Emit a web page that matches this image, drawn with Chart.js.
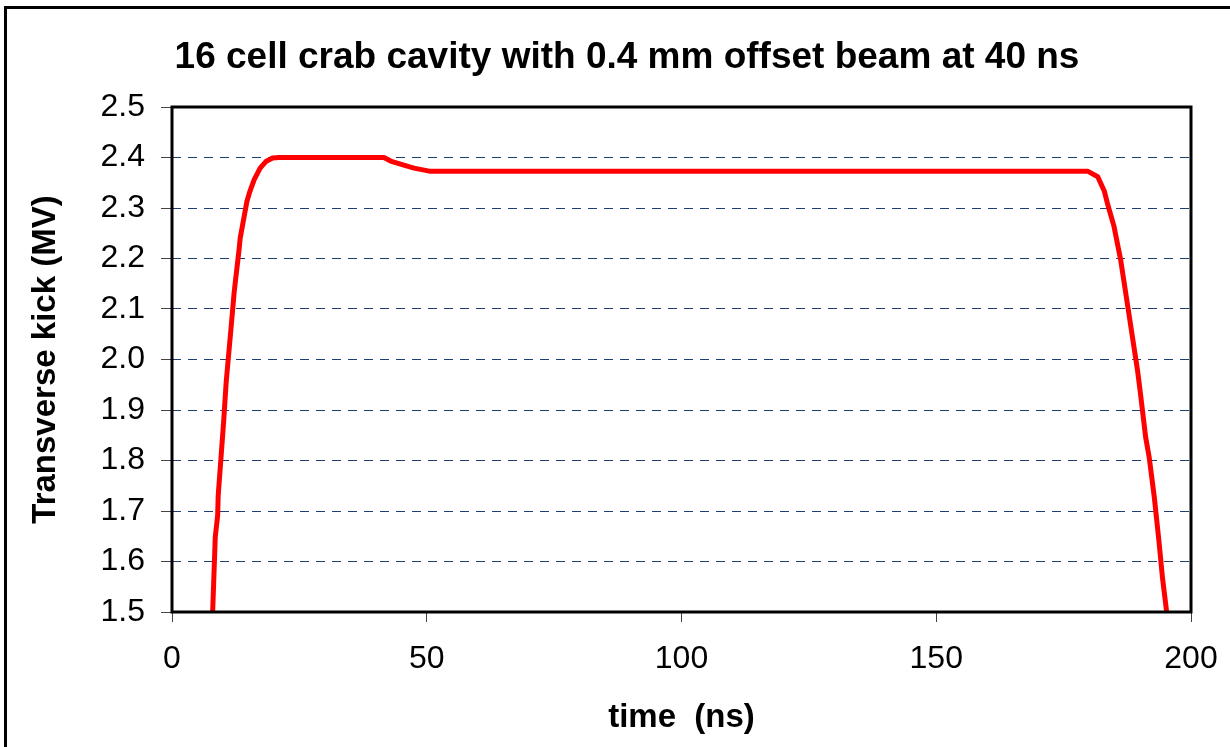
<!DOCTYPE html>
<html>
<head>
<meta charset="utf-8">
<title>16 cell crab cavity</title>
<script src="https://cdn.jsdelivr.net/npm/chart.js@4/dist/chart.umd.min.js"></script>
<style>
  html, body { margin: 0; padding: 0; background: #ffffff; }
  #wrap { width: 1230px; height: 747px; position: relative; }
</style>
</head>
<body>
<div id="wrap"><canvas id="chartKick"></canvas></div>
<script>
// Datos (tiempo en ns, kick en MV)
const TITLE = '16 cell crab cavity with 0.4 mm offset beam at 40 ns';
const X_LABEL = 'time  (ns)';
const Y_LABEL = 'Transverse kick (MV)';

const TIME_NS = [
  7.98, 8.49, 8.96, 9.07, 10.13, 10.64, 11.70, 12.21, 13.19, 13.38,
  14.70, 15.29, 16.13, 17.30, 18.42, 19.73, 21.03, 41.6, 42.9, 45.5,
  47.5, 50.5, 179.7, 181.7, 183.0, 183.6, 184.9, 186.2, 187.5, 188.8,
  189.5, 190.0, 191.1, 191.8, 192.8, 193.7, 194.4, 195.2
];
const KICK_MV = [
  1.50, 1.648, 1.691, 1.731, 1.876, 1.956, 2.075, 2.134, 2.220, 2.240,
  2.313, 2.333, 2.356, 2.379, 2.392, 2.399, 2.400, 2.400, 2.393, 2.385,
  2.379, 2.373, 2.373, 2.362, 2.333, 2.309, 2.263, 2.197, 2.111, 2.025,
  1.979, 1.939, 1.846, 1.806, 1.727, 1.641, 1.568, 1.502
];

const X_MIN = 0, X_MAX = 200, X_STEP = 50;
const Y_MIN = 1.5, Y_MAX = 2.5, Y_STEP = 0.1;

const FONT = 'Arial, "Liberation Sans", sans-serif';

// Marco exterior (solo se ven lado izquierdo y superior) + título + recuadro del área de trazado
const framePlugin = {
  id: 'frame',
  afterDraw(chart) {
    const { ctx, chartArea: a } = chart;
    ctx.save();
    ctx.strokeStyle = '#000000';
    ctx.lineWidth = 3;
    ctx.beginPath();
    ctx.moveTo(5.5, 760);
    ctx.lineTo(5.5, 7.5);
    ctx.lineTo(1240, 7.5);
    ctx.stroke();

    ctx.strokeRect(a.left, a.top, a.right - a.left, a.bottom - a.top);

    ctx.fillStyle = '#000000';
    ctx.font = 'bold 37px ' + FONT;
    ctx.textAlign = 'center';
    ctx.textBaseline = 'middle';
    ctx.fillText(TITLE, 627, 58);
    ctx.restore();
  }
};

new Chart(document.getElementById('chartKick'), {
  type: 'line',
  data: {
    datasets: [{
      data: TIME_NS.map((t, i) => ({ x: t, y: KICK_MV[i] })),
      borderColor: '#ff0000',
      borderWidth: 5,
      pointRadius: 0,
      tension: 0,
      fill: false,
      borderJoinStyle: 'round'
    }]
  },
  options: {
    responsive: true,
    maintainAspectRatio: false,
    devicePixelRatio: 1,
    animation: false,
    layout: { padding: { left: 10, right: 39, top: 107, bottom: 0 } },
    plugins: {
      legend: { display: false },
      tooltip: { enabled: false },
      title: { display: false }
    },
    scales: {
      x: {
        type: 'linear',
        min: X_MIN,
        max: X_MAX,
        afterFit: s => { s.height = 135; s.paddingLeft = 0; s.paddingRight = 0; },
        ticks: {
          stepSize: X_STEP,
          color: '#000000',
          padding: 18,
          maxRotation: 0,
          font: { family: FONT, size: 32 }
        },
        grid: {
          drawOnChartArea: false,
          drawTicks: true,
          tickLength: 10,
          tickColor: '#444444',
          tickWidth: 1
        },
        border: { display: false },
        title: {
          display: true,
          text: X_LABEL,
          color: '#000000',
          padding: { top: 0, bottom: 9 },
          font: { family: FONT, size: 33, weight: 'bold' }
        }
      },
      y: {
        min: Y_MIN,
        max: Y_MAX,
        afterFit: s => { s.width = 162; },
        ticks: {
          stepSize: Y_STEP,
          autoSkip: false,
          color: '#000000',
          padding: 16,
          font: { family: FONT, size: 32 },
          callback: v => Number(v).toFixed(1)
        },
        grid: {
          color: '#1f3f6f',
          lineWidth: 1,
          drawTicks: true,
          tickLength: 11,
          tickColor: '#444444',
          tickWidth: 1,
          tickBorderDash: []
        },
        border: { display: false, dash: [9, 7] },
        title: {
          display: true,
          text: Y_LABEL,
          color: '#000000',
          padding: { top: 16, bottom: 0 },
          font: { family: FONT, size: 33, weight: 'bold' }
        }
      }
    }
  },
  plugins: [framePlugin]
});
</script>
</body>
</html>
